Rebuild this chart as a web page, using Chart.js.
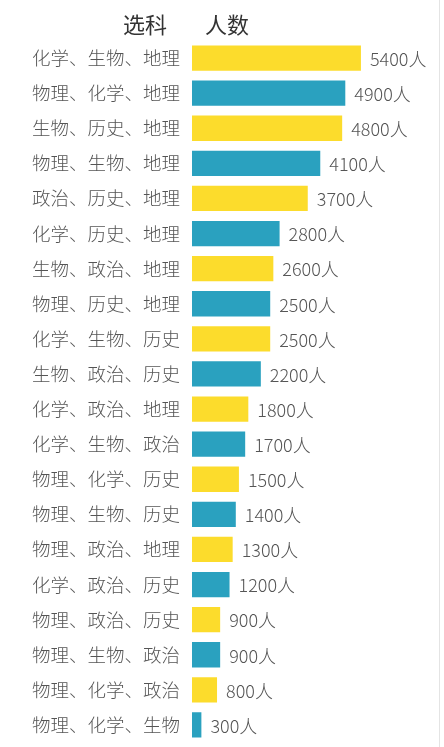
<!DOCTYPE html>
<html>
<head>
<meta charset="utf-8">
<script src="https://cdn.jsdelivr.net/npm/chart.js@4"></script>
<style>
html,body{margin:0;padding:0;background:#fff;}
#wrap{position:relative;width:444px;height:747px;}
#line{position:absolute;left:439px;top:0;width:1px;height:747px;background:#e4e4e4;}
</style>
</head>
<body>
<div id="wrap"><canvas id="c" width="444" height="747"></canvas><div id="line"></div></div>
<script>
const categories = ["化学、生物、地理","物理、化学、地理","生物、历史、地理","物理、生物、地理","政治、历史、地理","化学、历史、地理","生物、政治、地理","物理、历史、地理","化学、生物、历史","生物、政治、历史","化学、政治、地理","化学、生物、政治","物理、化学、历史","物理、生物、历史","物理、政治、地理","化学、政治、历史","物理、政治、历史","物理、生物、政治","物理、化学、政治","物理、化学、生物"];
const values = [5400,4900,4800,4100,3700,2800,2600,2500,2500,2200,1800,1700,1500,1400,1300,1200,900,900,800,300];
const unit = "人";
const titleLeft = "选科";
const titleRight = "人数";
const YELLOW = "#FCDC2C", BLUE = "#2AA1BF";
const colors = values.map((v,i)=> i%2===0 ? YELLOW : BLUE);
const FONT = '"Noto Sans CJK SC", "Noto Sans", sans-serif';

const labelPlugin = {
  id:'labels',
  afterDatasetsDraw(chart){
    const ctx = chart.ctx;
    const meta = chart.getDatasetMeta(0);
    ctx.save();
    ctx.font = '300 18px ' + FONT;
    ctx.fillStyle = '#555';
    ctx.textAlign = 'left';
    ctx.textBaseline = 'middle';
    meta.data.forEach((bar,i)=>{
      ctx.fillText(values[i] + unit, bar.x + 9, bar.y + 1);
    });
    ctx.font = '400 22px ' + FONT;
    ctx.fillStyle = '#333';
    ctx.textAlign = 'right';
    ctx.fillText(titleLeft, 167, 25);
    ctx.textAlign = 'left';
    ctx.fillText(titleRight, 205, 25);
    ctx.restore();
  }
};

new Chart(document.getElementById('c'), {
  type:'bar',
  data:{labels:categories, datasets:[{data:values, backgroundColor:colors, borderWidth:0, barPercentage:0.72, categoryPercentage:1.0}]},
  options:{
    indexAxis:'y',
    responsive:false,
    animation:false,
    devicePixelRatio:1,
    layout:{padding:{top:40.5,bottom:4.5,left:0,right:33}},
    plugins:{legend:{display:false},tooltip:{enabled:false},title:{display:false}},
    scales:{
      x:{display:false,min:0,max:7000},
      y:{
        grid:{display:false,drawTicks:false},
        border:{display:false},
        afterFit(scale){ scale.width = 192; scale.paddingTop = 0; scale.paddingBottom = 0; },
        ticks:{padding:12,color:'#555',font:{family:FONT,size:18.5,weight:'300'}}
      }
    }
  },
  plugins:[labelPlugin]
});
</script>
</body>
</html>
